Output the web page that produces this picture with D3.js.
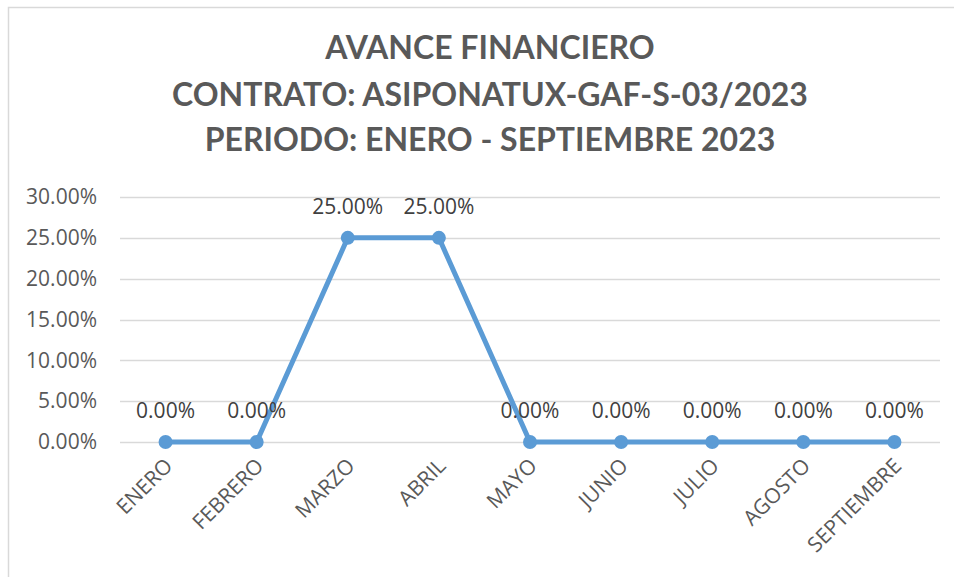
<!DOCTYPE html>
<html>
<head>
<meta charset="utf-8">
<script src="https://cdn.jsdelivr.net/npm/d3@7"></script>
<style>
  html, body { margin: 0; padding: 0; background: #fff; }
  svg { display: block; }
</style>
</head>
<body>
<svg id="chart" width="954" height="577"></svg>
<script>
const titleLines = ["AVANCE FINANCIERO", "CONTRATO: ASIPONATUX-GAF-S-03/2023", "PERIODO: ENERO - SEPTIEMBRE 2023"];
const months = ["ENERO", "FEBRERO", "MARZO", "ABRIL", "MAYO", "JUNIO", "JULIO", "AGOSTO", "SEPTIEMBRE"];
const avance = [0, 0, 0.25, 0.25, 0, 0, 0, 0, 0];
const yTicks = [0, 0.05, 0.10, 0.15, 0.20, 0.25, 0.30];

const svg = d3.select("#chart");
const W = 954, H = 577;

// outer chart border
svg.append("rect")
  .attr("x", 8.5).attr("y", 7.5)
  .attr("width", W + 20).attr("height", H + 20)
  .attr("fill", "#fff").attr("stroke", "#d9d9d9").attr("stroke-width", 1.5);

// title
const titleY = [59, 106, 151];
svg.append("g").selectAll("text").data(titleLines).join("text")
  .attr("x", 490)
  .attr("y", (d, i) => titleY[i])
  .attr("text-anchor", "middle")
  .attr("font-family", "Lato, 'Open Sans', sans-serif")
  .attr("font-weight", "bold")
  .attr("font-size", 32)
  .attr("fill", "#595959")
  .text(d => d);

const x = d3.scaleBand().domain(months).range([120, 940]).padding(0);
const y = d3.scaleLinear().domain([0, 0.30]).range([442, 197]);
const fmt = d3.format(".2%");

// gridlines
svg.append("g").selectAll("line").data(yTicks).join("line")
  .attr("x1", 120).attr("x2", 940)
  .attr("y1", d => Math.round(y(d)) + 0.5).attr("y2", d => Math.round(y(d)) + 0.5)
  .attr("stroke", "#d9d9d9").attr("stroke-width", 1.5);

// y axis labels
const yAxis = d3.axisLeft(y).tickValues(yTicks).tickFormat(fmt).tickSize(0).tickPadding(0);
const gy = svg.append("g").attr("transform", "translate(97,0)").call(yAxis);
gy.select(".domain").remove();
gy.selectAll("text")
  .attr("font-family", "'Open Sans', sans-serif")
  .attr("font-size", 21)
  .attr("fill", "#595959");

// x axis labels
const xAxis = d3.axisBottom(x).tickSize(0).tickPadding(0);
const gx = svg.append("g").attr("transform", "translate(0,442)").call(xAxis);
gx.select(".domain").remove();
gx.selectAll("text")
  .attr("font-family", "'Open Sans', sans-serif")
  .attr("font-size", 21)
  .attr("fill", "#595959")
  .attr("text-anchor", "end")
  .attr("dy", "0.35em")
  .attr("y", 0)
  .attr("transform", "translate(3,20) rotate(-45)");

// line
const cx = d => x(d) + x.bandwidth() / 2;
const data = months.map((m, i) => ({ m, v: avance[i] }));
svg.append("path")
  .datum(data)
  .attr("fill", "none")
  .attr("stroke", "#5b9bd5")
  .attr("stroke-width", 5)
  .attr("stroke-linejoin", "round")
  .attr("d", d3.line().x(d => cx(d.m)).y(d => y(d.v)));

svg.append("g").selectAll("circle").data(data).join("circle")
  .attr("cx", d => cx(d.m)).attr("cy", d => y(d.v))
  .attr("r", 7)
  .attr("fill", "#5b9bd5");

// data labels
svg.append("g").selectAll("text").data(data).join("text")
  .attr("x", d => cx(d.m)).attr("y", d => y(d.v) - 24)
  .attr("text-anchor", "middle")
  .attr("font-family", "'Open Sans', sans-serif")
  .attr("font-size", 21)
  .attr("fill", "#404040")
  .text(d => fmt(d.v));
</script>
</body>
</html>
